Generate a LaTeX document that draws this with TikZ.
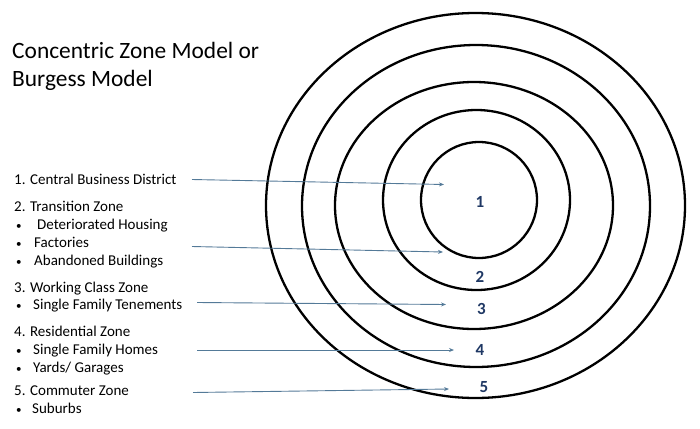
\documentclass[tikz,border=0pt]{standalone}
\usepackage{fontspec}
\setmainfont{Carlito}
\usetikzlibrary{arrows.meta, positioning}

\definecolor{arrowblue}{RGB}{84,122,152}
\definecolor{numblue}{RGB}{31,56,100}

\begin{document}
\begin{tikzpicture}[x=1pt, y=-1pt,
  ring/.style={line width=2.3pt},
  title/.style={anchor=base west, inner sep=0pt, font=\fontsize{23.4}{27}\selectfont},
  item/.style={anchor=base west, inner sep=0pt, font=\fontsize{15}{17}\selectfont},
  dot/.style={anchor=base west, inner sep=0pt, font=\fontsize{11}{13}\selectfont},
  pointer/.style={draw=arrowblue, line width=0.9pt, -{Stealth[length=5pt, width=4pt]}},
  zone/.style={inner sep=0pt, text=numblue, font=\fontsize{17}{19}\selectfont\bfseries}]
\useasboundingbox (0,0) rectangle (700,428);

% Title
\node[title] (title1) at (12,58) {Concentric Zone Model or};
\node[title] (title2) at (12,86) {Burgess Model};

% Rings, inner to outer
\draw[ring] (479,200) ellipse [x radius=58, y radius=58];
\draw[ring] (476.5,200) ellipse [x radius=93.5, y radius=90];
\draw[ring] (474,205.5) ellipse [x radius=139, y radius=123.5];
\draw[ring] (476,206) ellipse [x radius=174, y radius=161];
\draw[ring] (475.5,205.5) ellipse [x radius=209.5, y radius=192.5];

% Zone numbers
\node[zone] (z1) at (480,201.5) {1};
\node[zone] (z2) at (480,277) {2};
\node[zone] (z3) at (481.5,309) {3};
\node[zone] (z4) at (480,350) {4};
\node[zone] (z5) at (484,387.5) {5};

% Zone list
\node[item] (cbd) at (14,184) {1. Central Business District};
\node[item] (trans) at (14,211.5) {2. Transition Zone};
\node[dot] (b1) at (16,229) {•};
\node[item] (housing) at (37,229) {Deteriorated Housing};
\node[dot] (b2) at (16,247) {•};
\node[item] (factories) at (34,247) {Factories};
\node[dot] (b3) at (16,265) {•};
\node[item] (abandoned) at (34,265) {Abandoned Buildings};
\node[item] (working) at (14,292) {3. Working Class Zone};
\node[dot] (b4) at (16,309.5) {•};
\node[item] (tenements) at (33,309.5) {Single Family Tenements};
\node[item] (resid) at (14,336) {4. Residential Zone};
\node[dot] (b5) at (16,354) {•};
\node[item] (homes) at (33,354) {Single Family Homes};
\node[dot] (b6) at (16,372) {•};
\node[item] (yards) at (33,372) {Yards/ Garages};
\node[item] (commuter) at (14,395) {5. Commuter Zone};
\node[dot] (b7) at (16,413) {•};
\node[item] (suburbs) at (32,413) {Suburbs};

% Pointers
\coordinate (s1) at (192,179.5);
\coordinate (e1) at (444,184.5);
\coordinate (s2) at (192,246.5);
\coordinate (e2) at (443,252);
\coordinate (s3) at (197,302.5);
\coordinate (e3) at (446,304.5);
\coordinate (s4) at (197,350);
\coordinate (e4) at (454,350);
\coordinate (s5) at (193,392.5);
\coordinate (e5) at (449,389);
\draw[pointer] (s1) -- (e1);
\draw[pointer] (s2) -- (e2);
\draw[pointer] (s3) -- (e3);
\draw[pointer] (s4) -- (e4);
\draw[pointer] (s5) -- (e5);
\end{tikzpicture}
\end{document}
